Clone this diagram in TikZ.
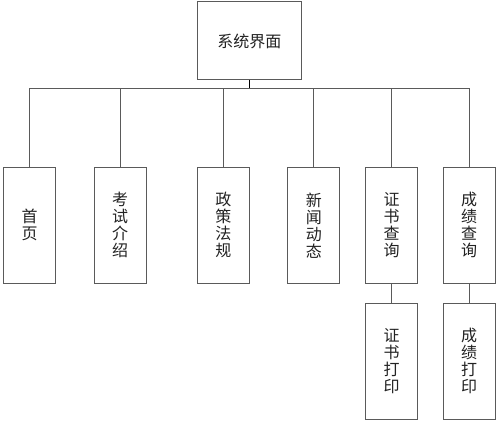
\documentclass[tikz,border=0pt]{standalone}
\usepackage{fontspec}
\newfontfamily\cjk{Noto Sans CJK SC}
\definecolor{boxline}{HTML}{5A5A5A}
\definecolor{txt}{HTML}{222222}
\begin{document}
\begin{tikzpicture}[x=1pt,y=-1pt,
  box/.style={draw=boxline,line width=1pt,fill=white,inner sep=0pt,
    font=\cjk\fontsize{16}{17}\selectfont,text=txt,align=center},
  conn/.style={draw=boxline,line width=1pt}]
\useasboundingbox (0,0) rectangle (499,425);
\node[box,minimum width=103.5pt,minimum height=78pt] (root) at (249.25,41) {系统界面};
\foreach \n/\x/\t in {a/29.5/首\\页, b/120/考\\试\\介\\绍, c/223.3/政\\策\\法\\规, d/313.8/新\\闻\\动\\态, e/391.5/证\\书\\查\\询, f/469/成\\绩\\查\\询}{
  \node[box,minimum width=52pt,minimum height=116.7pt] (\n) at (\x,225.4) {\t};
}
\node[box,minimum width=52pt,minimum height=116pt] (e2) at (391.5,361.3) {证\\书\\打\\印};
\node[box,minimum width=52pt,minimum height=116pt] (f2) at (469,361.3) {成\\绩\\打\\印};
\coordinate (bus) at (249.25,89);
\draw[conn,draw=black] (root.south) -- (bus);
\foreach \n in {a,b,c,d,e,f}{
  \draw[conn] (bus) -| (\n.north);
}
\draw[conn] (e.south) -- (e2.north);
\draw[conn] (f.south) -- (f2.north);
\end{tikzpicture}
\end{document}
